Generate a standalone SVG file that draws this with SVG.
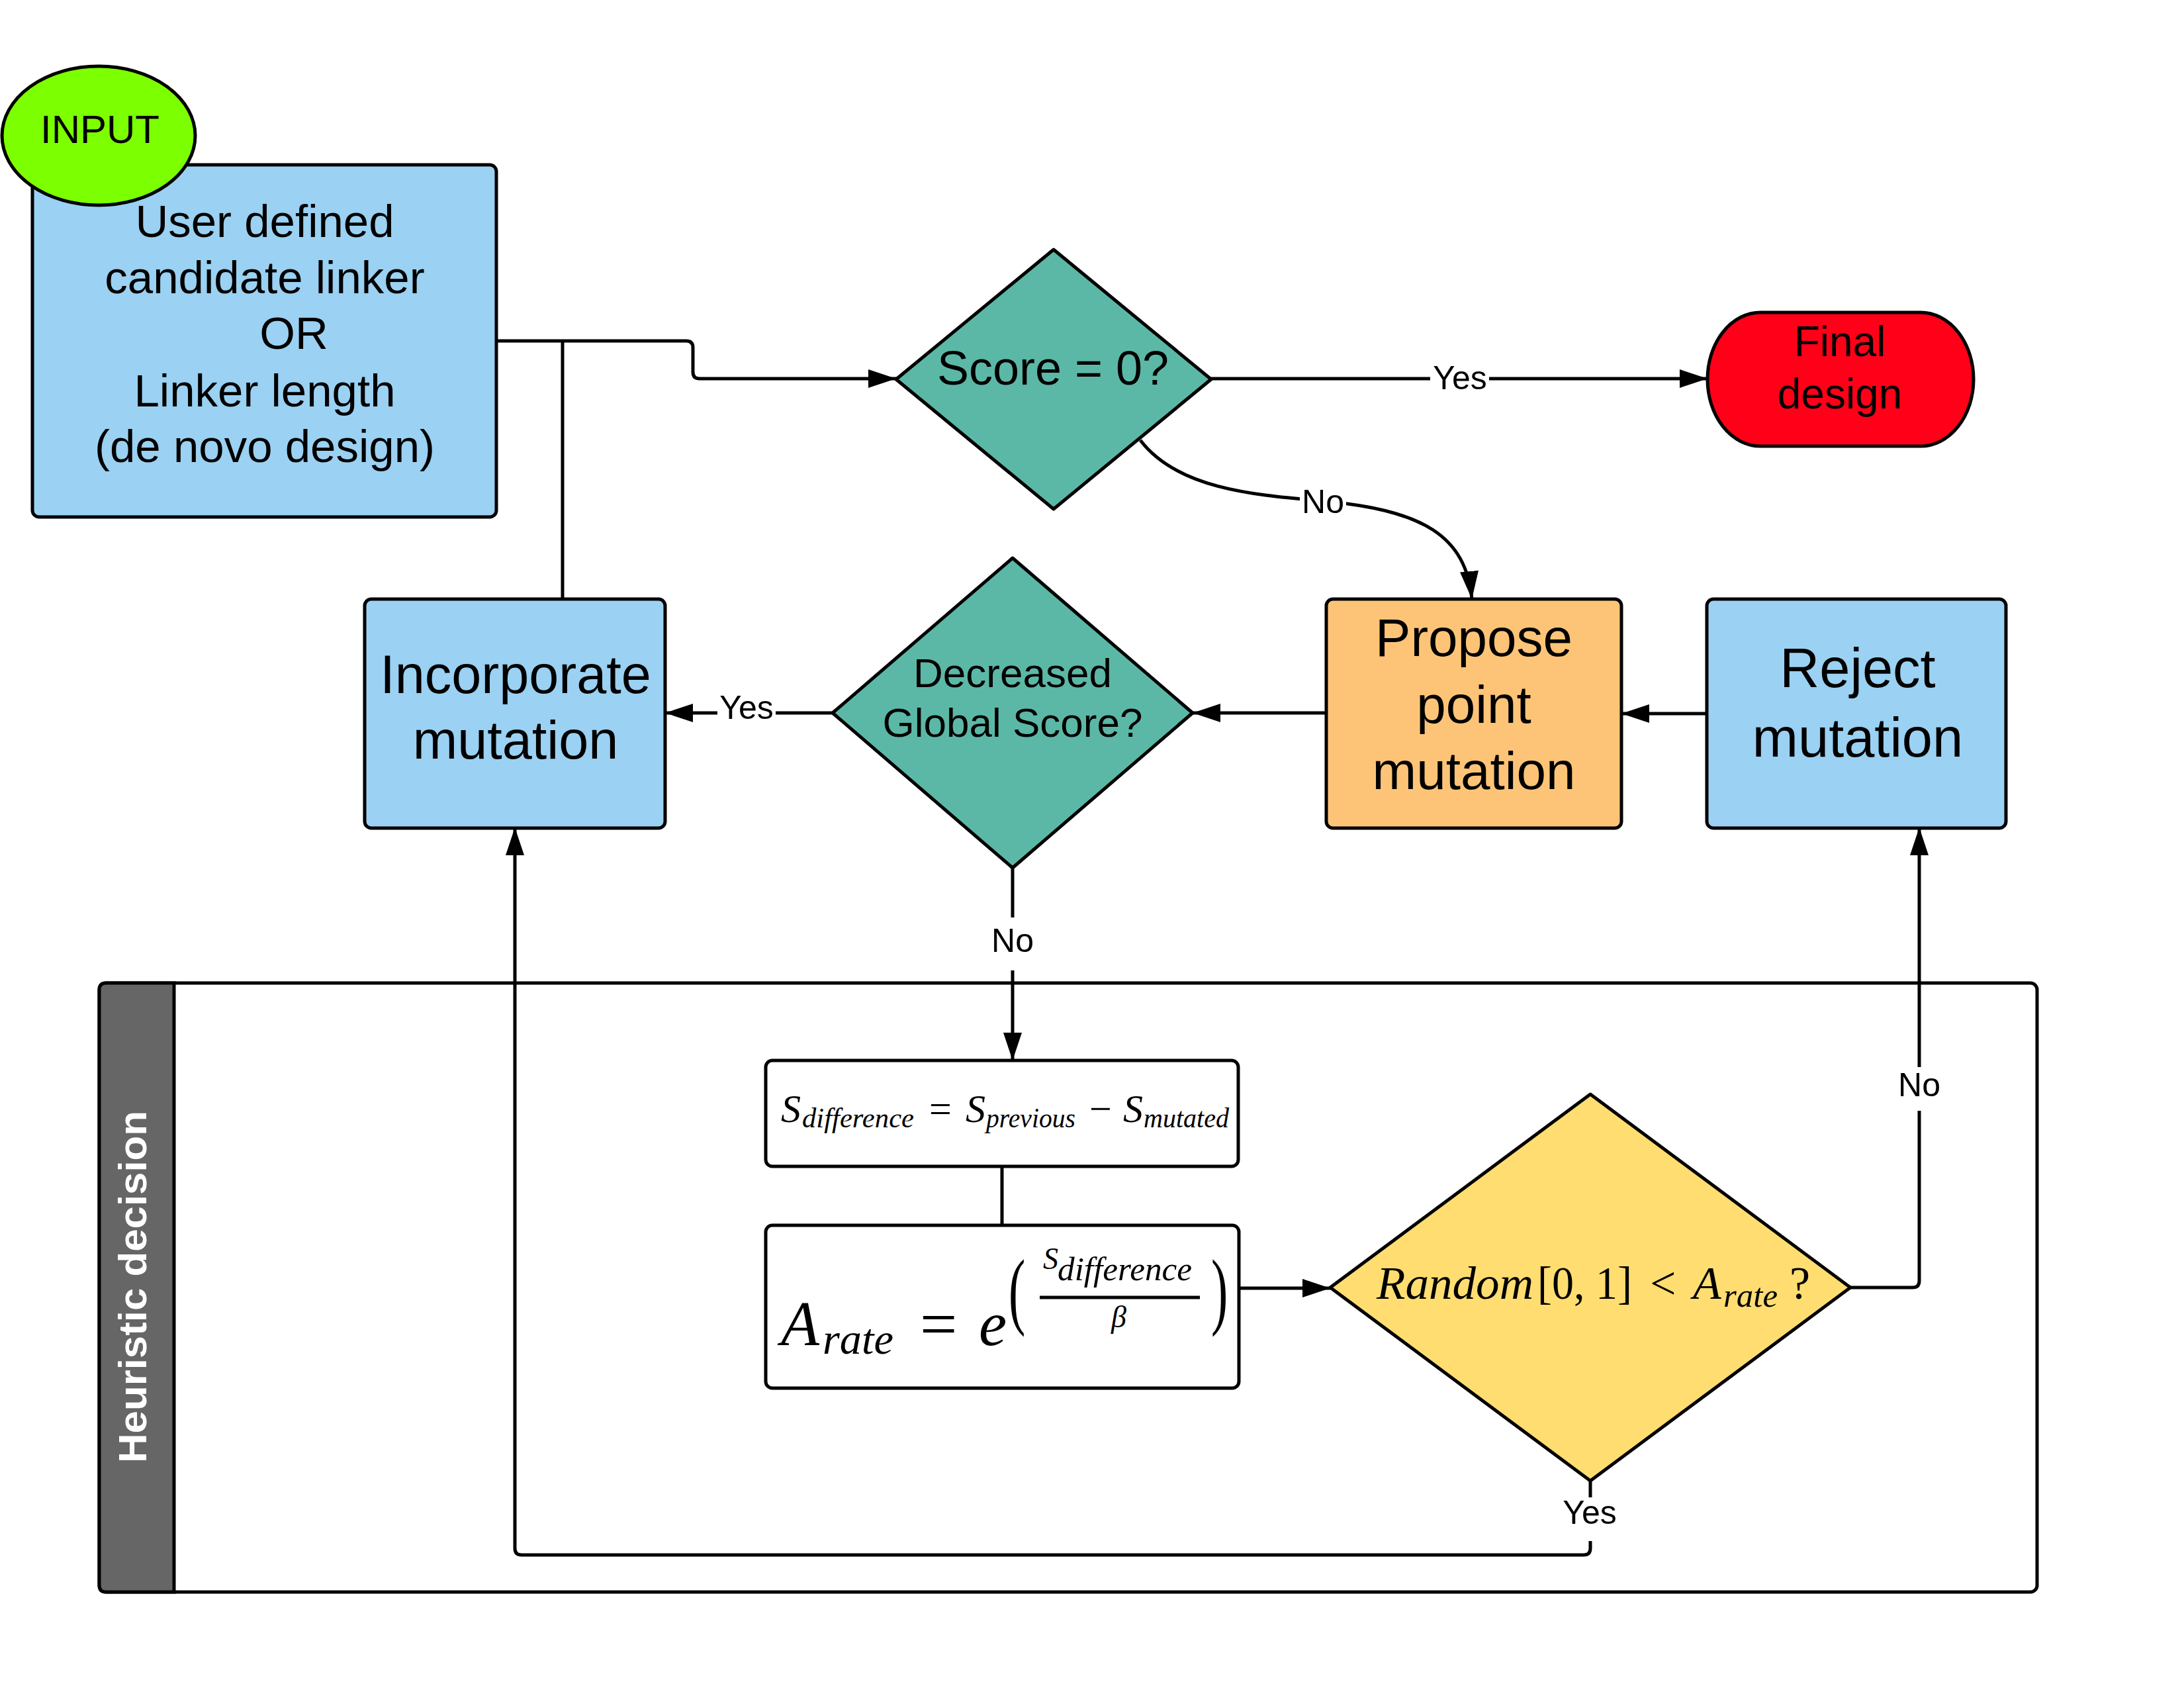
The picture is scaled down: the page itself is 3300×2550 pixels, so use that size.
<svg xmlns="http://www.w3.org/2000/svg" width="3300" height="2550" viewBox="0 0 3300 2550">
<style>
.shape{stroke:#000;stroke-width:5;stroke-linejoin:round}
.conn{fill:none;stroke:#000;stroke-width:5;stroke-linejoin:round}
.sans{font-family:"Liberation Sans",Arial,sans-serif;fill:#000}
.serif{font-family:"Liberation Serif","Times New Roman",serif;fill:#000}
.it{font-style:italic}
.lbl{font-family:"Liberation Sans",Arial,sans-serif;font-size:50px;text-anchor:middle;fill:#000}
.bg{fill:#fff}
.mid{text-anchor:middle}
</style>
<defs>
<marker id="arr" markerUnits="userSpaceOnUse" markerWidth="44" markerHeight="30" refX="42" refY="14" orient="auto" viewBox="0 0 44 30">
<path d="M0,0 L42,14 L0,28 z" fill="#000"/>
</marker>
</defs>
<rect width="3300" height="2550" fill="#fff"/>

<!-- container -->
<g id="heuristic">
<rect x="150" y="1485" width="2928" height="920" rx="10" fill="#fff" stroke="#000" stroke-width="5"/>
<path d="M263,1485 H160 Q150,1485 150,1495 V2395 Q150,2405 160,2405 H263 Z" fill="#666666" stroke="#000" stroke-width="5"/>
<text x="221" y="1944" transform="rotate(-90 221 1944)" class="mid" font-family="Liberation Sans,Arial,sans-serif" font-weight="bold" font-size="60" fill="#fff" textLength="532" lengthAdjust="spacingAndGlyphs">Heuristic decision</text>
</g>

<g id="connectors">
<path class="conn" d="M750,515 H1037 Q1047,515 1047,525 V562 Q1047,572 1057,572 H1354" marker-end="url(#arr)"/>
<path class="conn" d="M850,515 V905"/>
<path class="conn" d="M1830,572 H2580" marker-end="url(#arr)"/>
<path class="conn" d="M1723,665 C1780,740 1900,748 2000,757 C2150,770 2215,810 2224,905" marker-end="url(#arr)"/>
<path class="conn" d="M2579,1078 H2450" marker-end="url(#arr)"/>
<path class="conn" d="M2004,1077 H1802" marker-end="url(#arr)"/>
<path class="conn" d="M1258,1077 H1005" marker-end="url(#arr)"/>
<path class="conn" d="M1530,1311 V1602" marker-end="url(#arr)"/>
<path class="conn" d="M1514,1762 V1851"/>
<path class="conn" d="M1872,1946 H2010" marker-end="url(#arr)"/>
<path class="conn" d="M2796,1945 H2890 Q2900,1945 2900,1935 V1250" marker-end="url(#arr)"/>
<path class="conn" d="M2403,2237 V2339 Q2403,2349 2393,2349 H788 Q778,2349 778,2339 V1250" marker-end="url(#arr)"/>
<rect class="bg" x="2161" y="548" width="89" height="46"/>
<text class="lbl" x="2206" y="588">Yes</text>
<rect class="bg" x="1964" y="732" width="70" height="48"/>
<text class="lbl" x="1999" y="775">No</text>
<rect class="bg" x="1084" y="1046" width="88" height="48"/>
<text class="lbl" x="1128" y="1086">Yes</text>
<rect class="bg" x="1488" y="1386" width="84" height="80"/>
<text class="lbl" x="1530" y="1438" font-size="58">No</text>
<rect class="bg" x="2864" y="1612" width="72" height="66"/>
<text class="lbl" x="2900" y="1656">No</text>
<rect class="bg" x="2356" y="2262" width="94" height="66"/>
<text class="lbl" x="2402" y="2302" font-size="48">Yes</text>
</g>

<g id="user-input">
<rect class="shape" x="49" y="249" width="701" height="532" rx="10" fill="#9BD1F2"/>
<g class="sans mid" font-size="69">
<text x="400" y="358">User defined</text>
<text x="400" y="443">candidate linker</text>
<text x="444" y="527">OR</text>
<text x="400" y="614">Linker length</text>
<text x="400" y="698">(de novo design)</text>
</g>
</g>

<g id="input">
<ellipse class="shape" cx="149" cy="205" rx="146" ry="105" fill="#7CFF00"/>
<text class="sans mid" x="151" y="216" font-size="60">INPUT</text>
</g>

<g id="score-zero">
<polygon class="shape" points="1354,573 1592,377 1830,573 1592,769" fill="#5CB8A6"/>
<text class="sans mid" x="1591" y="581" font-size="72">Score = 0?</text>
</g>

<g id="final-design">
<rect class="shape" x="2580" y="472" width="402" height="202" rx="80" ry="101" fill="#FF0018"/>
<g class="sans mid" font-size="64">
<text x="2780" y="538">Final</text>
<text x="2780" y="617">design</text>
</g>
</g>

<g id="propose">
<rect class="shape" x="2004" y="905" width="446" height="346" rx="10" fill="#FDC477"/>
<g class="sans mid" font-size="80">
<text x="2227" y="991">Propose</text>
<text x="2227" y="1092">point</text>
<text x="2227" y="1192">mutation</text>
</g>
</g>

<g id="reject">
<rect class="shape" x="2579" y="905" width="452" height="346" rx="10" fill="#9BD1F2"/>
<g class="sans mid" font-size="83">
<text x="2807" y="1038">Reject</text>
<text x="2807" y="1143">mutation</text>
</g>
</g>

<g id="decreased">
<polygon class="shape" points="1258,1077 1530,843 1802,1077 1530,1311" fill="#5CB8A6"/>
<g class="sans mid" font-size="62">
<text x="1530" y="1038">Decreased</text>
<text x="1530" y="1113">Global Score?</text>
</g>
</g>

<g id="incorporate">
<rect class="shape" x="551" y="905" width="454" height="346" rx="10" fill="#9BD1F2"/>
<g class="sans mid" font-size="81">
<text x="779" y="1047">Incorporate</text>
<text x="779" y="1146">mutation</text>
</g>
</g>

<g id="s-difference">
<rect class="shape" x="1157" y="1602" width="714" height="160" rx="10" fill="#fff"/>
<g class="serif">
<text class="it" x="1180" y="1695" font-size="60">S</text>
<text class="it" x="1212" y="1703" font-size="42" textLength="169" lengthAdjust="spacingAndGlyphs">difference</text>
<text x="1404" y="1695" font-size="60">=</text>
<text class="it" x="1459" y="1695" font-size="60">S</text>
<text class="it" x="1490" y="1703" font-size="42" textLength="135" lengthAdjust="spacingAndGlyphs">previous</text>
<text x="1646" y="1695" font-size="60">−</text>
<text class="it" x="1697" y="1695" font-size="60">S</text>
<text class="it" x="1728" y="1703" font-size="42" textLength="129" lengthAdjust="spacingAndGlyphs">mutated</text>
</g>
</g>

<g id="a-rate">
<rect class="shape" x="1157" y="1851" width="715" height="246" rx="10" fill="#fff"/>
<g class="serif">
<text class="it" x="1180" y="2032" font-size="95">A</text>
<text class="it" x="1243" y="2045" font-size="66" textLength="107" lengthAdjust="spacingAndGlyphs">rate</text>
<text x="1390" y="2034" font-size="100">=</text>
<text class="it" x="1479" y="2032" font-size="95">e</text>
<text transform="translate(1524,1992) scale(0.8,1.35)" x="0" y="0" font-size="95">(</text>
<text class="it" x="1576" y="1917" font-size="46">S</text>
<text class="it" x="1598" y="1934" font-size="50" textLength="203" lengthAdjust="spacingAndGlyphs">difference</text>
<text class="it" x="1679" y="2005" font-size="46">β</text>
<text transform="translate(1830,1992) scale(0.8,1.35)" x="0" y="0" font-size="95">)</text>
</g>
<line x1="1571" y1="1960" x2="1813" y2="1960" stroke="#000" stroke-width="5"/>
</g>

<g id="random-check">
<polygon class="shape" points="2010,1945 2403,1653 2796,1945 2403,2237" fill="#FFDD71"/>
<g class="serif">
<text class="it" x="2080" y="1962" font-size="70" textLength="237" lengthAdjust="spacingAndGlyphs">Random</text>
<text x="2323" y="1962" font-size="70" textLength="143" lengthAdjust="spacingAndGlyphs">[0, 1]</text>
<text x="2493" y="1962" font-size="70">&lt;</text>
<text class="it" x="2558" y="1962" font-size="70">A</text>
<text class="it" x="2604" y="1974" font-size="50" textLength="82" lengthAdjust="spacingAndGlyphs">rate</text>
<text x="2704" y="1962" font-size="70">?</text>
</g>
</g>
</svg>
